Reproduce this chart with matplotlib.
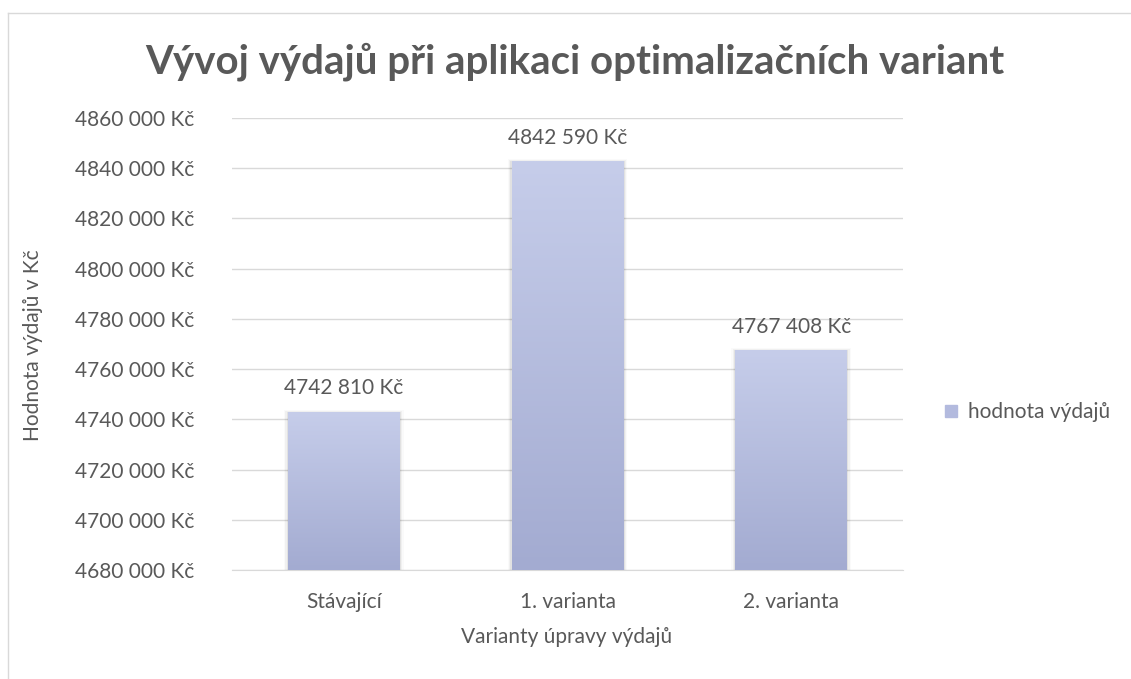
import matplotlib.pyplot as plt
import numpy as np
from matplotlib.colors import LinearSegmentedColormap
from matplotlib.lines import Line2D
from matplotlib.patches import Rectangle

categories = ["Stávající", "1. varianta", "2. varianta"]
values = [4742810, 4842590, 4767408]
y_ticks = list(range(4680000, 4860001, 20000))
series_name = "hodnota výdajů"

plt.rcParams["font.family"] = ["Lato", "DejaVu Sans"]
text_color = "#595959"
grid_color = "#d9d9d9"
W, H = 1131, 679


def kc(v):
    return f"{v // 1000} {v % 1000:03d} Kč"


fig = plt.figure(figsize=(W / 100, H / 100), dpi=100)
ax = fig.add_axes([232 / W, 1 - 570 / H, (903 - 232) / W, (570 - 118) / H])

ax.set_xlim(-0.5, len(categories) - 0.5)
ax.set_ylim(y_ticks[0], y_ticks[-1])
ax.set_yticks(y_ticks)
ax.set_yticklabels([kc(t) for t in y_ticks])
ax.set_xticks(range(len(categories)))
ax.set_xticklabels(categories)
ax.tick_params(length=0, labelsize=15, colors=text_color)
ax.tick_params(axis="y", pad=27)
ax.tick_params(axis="x", pad=16)
ax.grid(axis="y", color=grid_color, lw=1)
ax.set_axisbelow(True)
for side in ["top", "right", "left"]:
    ax.spines[side].set_visible(False)
ax.spines["bottom"].set_color(grid_color)

cmap = LinearSegmentedColormap.from_list("bar", ["#a3abd1", "#c6cdea"])
grad = np.linspace(0, 1, 256).reshape(-1, 1)
bar_w = 0.5
for i, v in enumerate(values):
    x0 = i - bar_w / 2
    # soft shadow
    for k, a in enumerate([0.06, 0.04, 0.02]):
        d = 0.006 * (k + 1)
        ax.add_patch(Rectangle((x0 - d, y_ticks[0]), bar_w + 2 * d, v - y_ticks[0] + 300 * (k + 1),
                               facecolor="black", alpha=a, lw=0, zorder=2))
    ax.imshow(grad, extent=(x0, x0 + bar_w, y_ticks[0], v), origin="lower",
              cmap=cmap, aspect="auto", zorder=3)
    ax.text(i, v + 5500, kc(v), ha="center", va="bottom", fontsize=15, color=text_color)

fig.text(567 / W, 1 - 637 / H, "Varianty úpravy výdajů", ha="center", va="center",
         fontsize=15, color=text_color)
fig.text(33 / W, 1 - 345 / H, "Hodnota výdajů v Kč", ha="center", va="center",
         rotation=90, fontsize=15, color=text_color)

fig.suptitle("Vývoj výdajů při aplikaci optimalizačních variant", x=575 / W, y=1 - 62 / H,
             va="center", fontsize=29, fontweight="bold", color=text_color)

handle = Line2D([], [], marker="s", linestyle="", markersize=9,
                markerfacecolor="#b3bade", markeredgecolor="#b3bade")
fig.legend([handle], [series_name], loc="center left", bbox_to_anchor=(922 / W, 1 - 412 / H),
           frameon=False, fontsize=15, labelcolor=text_color, handletextpad=0.3,
           handlelength=1.0)

# chart border
fig.add_artist(Line2D([8 / W, 8 / W], [0, 1 - 13 / H], transform=fig.transFigure,
                      color=grid_color, lw=1))
fig.add_artist(Line2D([8 / W, 1], [1 - 13 / H, 1 - 13 / H], transform=fig.transFigure,
                      color=grid_color, lw=1))

fig.savefig("out.png", dpi=100)
